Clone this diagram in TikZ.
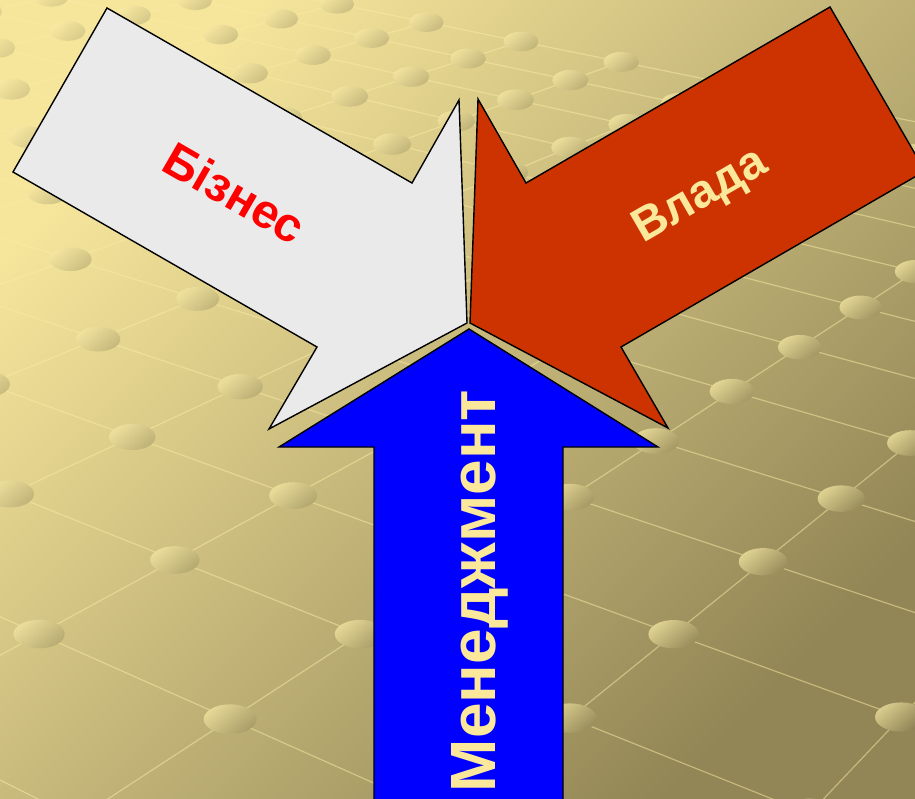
\documentclass[tikz,border=0pt]{standalone}
\usepackage{fontspec}
\setmainfont{Liberation Sans}

\definecolor{bgA}{RGB}{246,230,156}
\definecolor{bgB}{RGB}{146,134,86}
\definecolor{gridc}{RGB}{250,236,165}
\definecolor{dotL}{RGB}{252,238,168}
\definecolor{bizfill}{RGB}{234,234,234}
\definecolor{vladafill}{RGB}{204,51,0}
\definecolor{mgmtfill}{RGB}{0,0,255}
\definecolor{txtY}{RGB}{252,232,155}

\begin{document}
\begin{tikzpicture}[x=1pt, y=-1pt,
  % perspective map of the floor lattice (u,v) onto the page
  declare function={
    hd(\u,\v)=1-0.05502*\u+0.065957*\v;
    hx(\u,\v)=(155.31*\u+130.99*\v+10)/hd(\u,\v);
    hy(\u,\v)=(35.17*\u-28.18*\v+494)/hd(\u,\v);
  },
  gridline/.style={draw=gridc, line width=1.2pt, opacity=0.5},
  blockarrow/.style={draw=black, line width=1.4pt, line join=miter},
  lbl/.style={inner sep=0pt, font=\bfseries\fontsize{48}{52}\selectfont},
]

% background
\shade[top color=bgA, bottom color=bgB, shading angle=45] (0,0) rectangle (915,799);
\useasboundingbox (0,0) rectangle (915,799);

\begin{scope}
  \clip (0,0) rectangle (915,799);
  % lattice lines
  \foreach \v in {-4,...,11}
    \draw[gridline] ({hx(-8,\v)},{hy(-8,\v)}) -- ({hx(5,\v)},{hy(5,\v)});
  \foreach \u in {-8,...,5}
    \draw[gridline] ({hx(\u,-4)},{hy(\u,-4)}) -- ({hx(\u,11)},{hy(\u,11)});
  % studs at the lattice crossings
  \foreach \u in {-8,...,5}{
    \foreach \v in {-4,...,11}{
      \pgfmathsetmacro\hdv{hd(\u,\v)}
      \pgfmathsetmacro\hpx{hx(\u,\v)}
      \pgfmathsetmacro\hpy{hy(\u,\v)}
      \pgfmathsetmacro\rwx{24/sqrt(\hdv)}
      \pgfmathsetmacro\rhy{0.56*\rwx}
      \pgfmathsetmacro\dmix{max(0,min(100,50*(\hpx/915+\hpy/799)))}
      \colorlet{dotbase}{bgB!\dmix!bgA}
      \shade[top color=dotbase!35!dotL, bottom color=dotbase!90!black, shading angle=40]
        (\hpx,\hpy) ellipse [x radius=\rwx, y radius=\rhy];
    }
  }

  % block arrows
  \fill[bizfill] (107,8) -- (412,183) -- (459,100) -- (467,323) -- (269,429) -- (317,347) -- (13,172) -- cycle;
  \draw[blockarrow] (107,8) -- (412,183) -- (459,100) -- (467,323) -- (269,429) -- (317,347) -- (13,172) -- cycle;

  \fill[vladafill] (830,7) -- (925,171) -- (621,347) -- (668,428) -- (470,323) -- (478,99) -- (526,183) -- cycle;
  \draw[blockarrow] (830,7) -- (925,171) -- (621,347) -- (668,428) -- (470,323) -- (478,99) -- (526,183) -- cycle;

  \fill[mgmtfill] (469,329) -- (658,447) -- (563,447) -- (563,815) -- (374,815) -- (374,447) -- (279,447) -- cycle;
  \draw[blockarrow] (469,329) -- (658,447) -- (563,447) -- (563,815) -- (374,815) -- (374,447) -- (279,447) -- cycle;
\end{scope}

% labels
\node[lbl, text=red, rotate=-30] (biz) at (235,193) {Бізнес};
\node[lbl, text=txtY, rotate=30, font=\bfseries\fontsize{47}{52}\selectfont] (vlada) at (701,197) {Влада};
\node[lbl, text=txtY, rotate=90, anchor=base, font=\bfseries\fontsize{64}{70}\selectfont] (mgmt) at (495,591) {Менеджмент};

\end{tikzpicture}
\end{document}
